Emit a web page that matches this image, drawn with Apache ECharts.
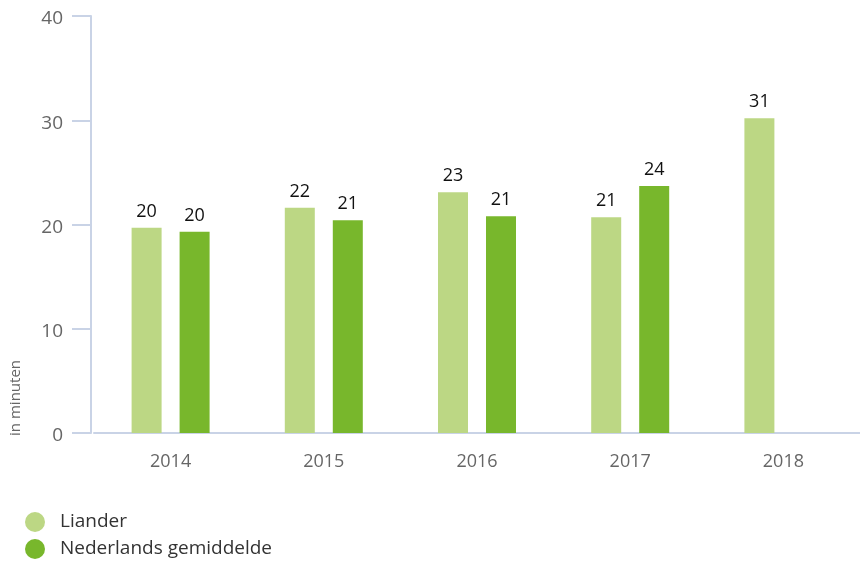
<!DOCTYPE html>
<html>
<head>
<meta charset="utf-8">
<script src="https://cdn.jsdelivr.net/npm/echarts@6/dist/echarts.min.js"></script>
<style>html,body{margin:0;padding:0;background:#fff}#c{width:860px;height:561px}</style>
</head>
<body>
<div id="c"></div>
<script>
var categories = ['2014', '2015', '2016', '2017', '2018'];
var lianderValues = [19.7, 21.6, 23.1, 20.7, 30.2];
var lianderLabels = ['20', '22', '23', '21', '31'];
var nlValues = [19.3, 20.4, 20.8, 23.7, null];
var nlLabels = ['20', '21', '21', '24', ''];
var yTicks = [0, 10, 20, 30, 40];
var seriesNames = ['Liander', 'Nederlands gemiddelde'];

var FONT = '"Open Sans", sans-serif';
var chart = echarts.init(document.getElementById('c'), null, {renderer: 'canvas'});
function lbl(arr) {
  return {
    show: true, position: 'top', distance: 7, color: '#111', fontSize: 18, fontFamily: FONT,
    formatter: function (p) { return arr[p.dataIndex]; }
  };
}
chart.setOption({
  animation: false,
  grid: {left: 94, top: 16, width: 778, height: 417, containLabel: false},
  legend: {
    orient: 'vertical', left: 25, top: 512, padding: 0, icon: 'circle', itemWidth: 20, itemHeight: 20, itemGap: 7,
    textStyle: {color: '#333', fontSize: 19, fontFamily: FONT, padding: [0, 0, 0, 10]},
    data: seriesNames
  },
  xAxis: {
    type: 'category', data: categories,
    axisLine: {lineStyle: {color: '#c9d3e6', width: 2}},
    axisTick: {show: false},
    axisLabel: {color: '#666', fontSize: 18, fontFamily: FONT, margin: 20}
  },
  yAxis: {
    type: 'value', min: yTicks[0], max: yTicks[yTicks.length - 1], interval: 10, offset: 3,
    axisLine: {show: true, lineStyle: {color: '#c9d3e6', width: 2}},
    axisTick: {show: true, inside: false, length: 19, lineStyle: {color: '#c9d3e6', width: 2}},
    splitLine: {show: false},
    axisLabel: {
      margin: 28,
      formatter: function (v) { return '{t|' + v + '}'; },
      rich: {t: {color: '#666', fontSize: 19, fontFamily: FONT, padding: [6, 0, 0, 0]}}
    }
  },
  graphic: [{
    type: 'text', left: 8, top: 360, rotation: Math.PI / 2,
    style: {text: 'in minuten', fill: '#666', fontSize: 15, fontFamily: FONT}
  }],
  series: [
    {name: seriesNames[0], type: 'bar', data: lianderValues, barWidth: 30, barGap: '60%',
     itemStyle: {color: '#bcd784'}, label: lbl(lianderLabels)},
    {name: seriesNames[1], type: 'bar', data: nlValues, barWidth: 30,
     itemStyle: {color: '#78b72c'}, label: lbl(nlLabels)}
  ]
});
</script>
</body>
</html>
